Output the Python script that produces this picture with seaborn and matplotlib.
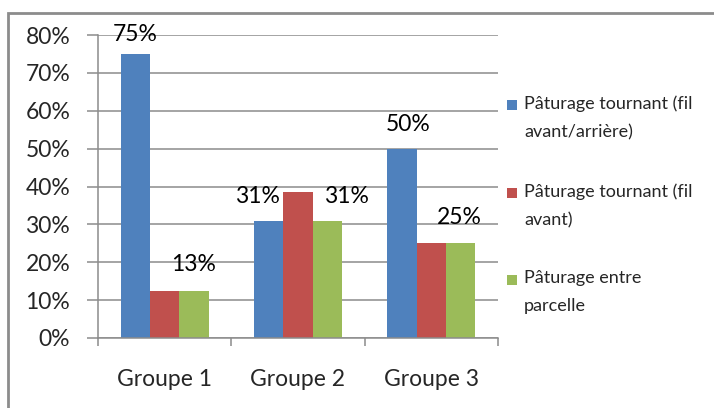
import matplotlib
matplotlib.use("Agg")
import matplotlib.pyplot as plt
from matplotlib.patches import Rectangle
import seaborn as sns
import pandas as pd

groups = ["Groupe 1", "Groupe 2", "Groupe 3"]
series = ["Pâturage tournant (fil avant/arrière)",
          "Pâturage tournant (fil avant)",
          "Pâturage entre parcelle"]
legend_labels = ["Pâturage tournant (fil\navant/arrière)",
                 "Pâturage tournant (fil\navant)",
                 "Pâturage entre\nparcelle"]
vals_s1 = [75.0, 30.77, 50.0]
vals_s2 = [12.5, 38.46, 25.0]
vals_s3 = [12.5, 30.77, 25.0]
colors = ["#4F81BD", "#C0504D", "#9BBB59"]
yticks = [0, 10, 20, 30, 40, 50, 60, 70, 80]
ytick_labels = ["0%", "10%", "20%", "30%", "40%", "50%", "60%", "70%", "80%"]
# data labels shown: (group index, series index, text, x offset px, y offset px)
data_labels = [(0, 0, "75%", 0, 19), (0, 2, "13%", 0, 26),
               (1, 0, "31%", -11, 25), (1, 2, "31%", 19, 25),
               (2, 0, "50%", 6, 24), (2, 2, "25%", -1, 26)]

rows = []
for g, a, b, c in zip(groups, vals_s1, vals_s2, vals_s3):
    rows += [(g, series[0], a), (g, series[1], b), (g, series[2], c)]
df = pd.DataFrame(rows, columns=["grp", "serie", "val"])

sns.set_style("white")
plt.rcParams["font.family"] = ["Lato", "DejaVu Sans"]
FS = 16.5

fig = plt.figure(figsize=(7.14, 4.08), dpi=100)
ax = fig.add_axes([98 / 714, 1 - 338 / 408, 400 / 714, 303 / 408])
sns.barplot(data=df, x="grp", y="val", hue="serie", palette=colors,
            width=0.66, saturation=1, ax=ax, legend=False, edgecolor="none")

ax.set_ylim(0, 80)
ax.set_xlim(-0.5, 2.5)
ax.set_yticks(yticks)
ax.set_yticklabels(ytick_labels, fontsize=FS)
ax.yaxis.grid(True, color="#8c8c8c", linewidth=1.1)
ax.set_axisbelow(True)
ax.set_xlabel("")
ax.set_ylabel("")
for s in ["top", "right"]:
    ax.spines[s].set_visible(False)
for s in ["left", "bottom"]:
    ax.spines[s].set_color("#8c8c8c")
    ax.spines[s].set_linewidth(1.1)
ax.tick_params(axis="y", length=8, width=1.1, color="#8c8c8c", direction="out", pad=12, left=True)
ax.set_xticks([0, 1, 2])
ax.set_xticklabels(groups, fontsize=FS)
ax.tick_params(axis="x", which="major", length=0, pad=22)
ax.set_xticks([-0.5, 0.5, 1.5, 2.5], minor=True)
ax.tick_params(axis="x", which="minor", length=6, width=1.1, color="#8c8c8c", direction="out", bottom=True)

bar_w = 0.66 / 3
vals = [vals_s1, vals_s2, vals_s3]
for gi, si, txt, dx, dy in data_labels:
    x = gi + (si - 1) * bar_w
    ax.annotate(txt, (x, vals[si][gi]), xytext=(dx * 0.72, dy * 0.72),
                textcoords="offset points", ha="center", va="center",
                fontsize=FS, color="black")

# legend
for i, (lab, col) in enumerate(zip(legend_labels, colors)):
    y_top = [105, 193, 280][i]
    fig.patches.append(Rectangle((507 / 714, 1 - (y_top + 5) / 408), 10 / 714, 10 / 408,
                                 transform=fig.transFigure, facecolor=col, edgecolor="none"))
    fig.text(524 / 714, 1 - (y_top - 10) / 408, lab, fontsize=13, va="top", ha="left",
             linespacing=1.95)

# outer border
fig.patches.append(Rectangle((8 / 714, -0.05), 1.1, 1 - 13 / 408 + 0.05,
                             transform=fig.transFigure, facecolor="none",
                             edgecolor="#8c8c8c", linewidth=2))

fig.savefig("out.png", dpi=100)
